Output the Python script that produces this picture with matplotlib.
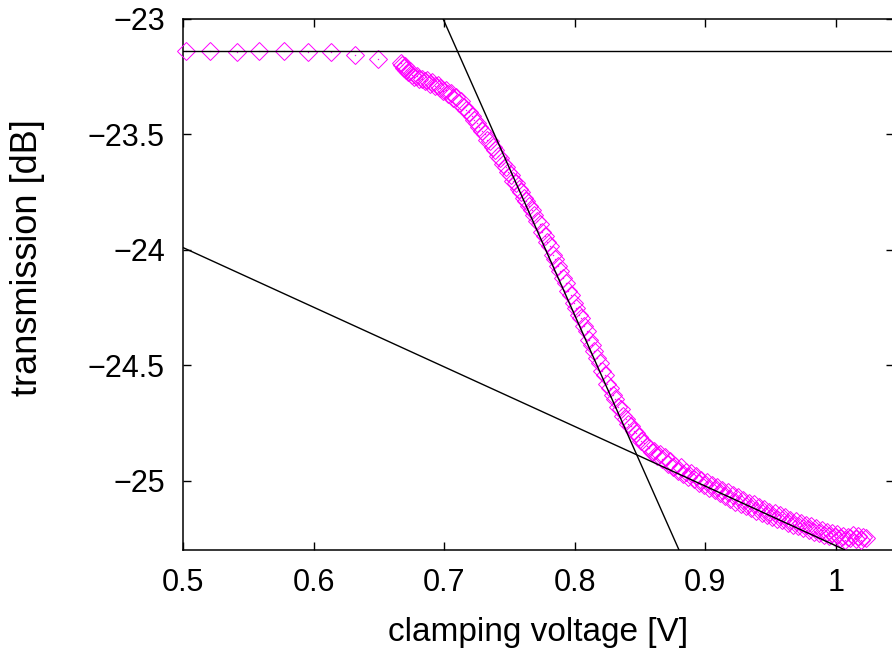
import matplotlib
matplotlib.use("Agg")
import matplotlib.pyplot as plt
from matplotlib.ticker import FuncFormatter

# ---- data ----
sparse_v = [0.502, 0.521, 0.541, 0.558, 0.577, 0.596, 0.613, 0.632, 0.649]
sparse_t = [-23.140, -23.140, -23.141, -23.139, -23.140, -23.143, -23.142, -23.158, -23.172]

dense_v = [
    0.6670, 0.6680, 0.6690, 0.6700, 0.6710, 0.6720, 0.6735, 0.6750, 0.6770, 0.6790,
    0.6810, 0.6830, 0.6850, 0.6870, 0.6890, 0.6910, 0.6930, 0.6950, 0.6970, 0.6990,
    0.7010, 0.7030, 0.7050, 0.7070, 0.7090, 0.7110, 0.7130, 0.7150, 0.7170, 0.7190,
    0.7210, 0.7230, 0.7250, 0.7270, 0.7290, 0.7310, 0.7330, 0.7350, 0.7370, 0.7390,
    0.7410, 0.7430, 0.7450, 0.7470, 0.7490, 0.7510, 0.7530, 0.7550, 0.7570, 0.7590,
    0.7610, 0.7630, 0.7650, 0.7670, 0.7690, 0.7710, 0.7730, 0.7750, 0.7770, 0.7790,
    0.7810, 0.7830, 0.7850, 0.7870, 0.7890, 0.7910, 0.7930, 0.7950, 0.7970, 0.7990,
    0.8010, 0.8030, 0.8050, 0.8070, 0.8090, 0.8110, 0.8130, 0.8150, 0.8170, 0.8190,
    0.8210, 0.8230, 0.8250, 0.8270, 0.8290, 0.8310, 0.8330, 0.8350, 0.8370, 0.8390,
    0.8410, 0.8430, 0.8450, 0.8470, 0.8490, 0.8510, 0.8530, 0.8550, 0.8570, 0.8590,
    0.8610, 0.8630, 0.8650, 0.8670, 0.8690, 0.8710, 0.8730, 0.8750, 0.8770, 0.8790,
    0.8810, 0.8830, 0.8850, 0.8870, 0.8890, 0.8910, 0.8930, 0.8950, 0.8970, 0.8990,
    0.9010, 0.9030, 0.9050, 0.9070, 0.9090, 0.9110, 0.9130, 0.9150, 0.9170, 0.9190,
    0.9210, 0.9230, 0.9250, 0.9270, 0.9290, 0.9310, 0.9330, 0.9350, 0.9370, 0.9390,
    0.9410, 0.9430, 0.9450, 0.9470, 0.9490, 0.9510, 0.9530, 0.9550, 0.9570, 0.9590,
    0.9610, 0.9630, 0.9650, 0.9670, 0.9690, 0.9710, 0.9730, 0.9750, 0.9770, 0.9790,
    0.9810, 0.9830, 0.9850, 0.9870, 0.9890, 0.9910, 0.9930, 0.9950, 0.9970, 0.9990,
    1.0010, 1.0030, 1.0050, 1.0070, 1.0090, 1.0110, 1.0130, 1.0150, 1.0170, 1.0190,
    1.0210, 1.0230,
]
dense_t = [
    -23.192, -23.200, -23.211, -23.205, -23.222, -23.230, -23.226, -23.243, -23.252, -23.249,
    -23.262, -23.258, -23.270, -23.266, -23.281, -23.275, -23.292, -23.286, -23.301, -23.310,
    -23.306, -23.327, -23.322, -23.343, -23.338, -23.362, -23.355, -23.381, -23.392, -23.403,
    -23.418, -23.437, -23.449, -23.468, -23.484, -23.500, -23.522, -23.530, -23.556, -23.568,
    -23.592, -23.601, -23.628, -23.640, -23.662, -23.675, -23.701, -23.712, -23.738, -23.750,
    -23.776, -23.790, -23.812, -23.826, -23.851, -23.876, -23.889, -23.921, -23.940, -23.968,
    -23.983, -24.021, -24.040, -24.068, -24.092, -24.121, -24.145, -24.180, -24.196, -24.232,
    -24.250, -24.280, -24.296, -24.330, -24.352, -24.389, -24.410, -24.440, -24.470, -24.488,
    -24.524, -24.540, -24.579, -24.598, -24.630, -24.645, -24.680, -24.690, -24.718, -24.731,
    -24.755, -24.762, -24.784, -24.795, -24.812, -24.826, -24.838, -24.850, -24.857, -24.876,
    -24.870, -24.893, -24.885, -24.905, -24.898, -24.929, -24.915, -24.940, -24.935, -24.958,
    -24.942, -24.970, -24.960, -24.985, -24.965, -24.992, -24.978, -25.010, -24.995, -25.020,
    -25.005, -25.030, -25.018, -25.042, -25.025, -25.055, -25.040, -25.068, -25.050, -25.078,
    -25.062, -25.090, -25.072, -25.100, -25.085, -25.110, -25.096, -25.120, -25.102, -25.130,
    -25.112, -25.138, -25.122, -25.150, -25.135, -25.158, -25.140, -25.165, -25.150, -25.172,
    -25.155, -25.182, -25.168, -25.190, -25.175, -25.198, -25.182, -25.205, -25.190, -25.212,
    -25.196, -25.222, -25.205, -25.228, -25.214, -25.235, -25.220, -25.240, -25.228, -25.245,
    -25.232, -25.250, -25.238, -25.255, -25.242, -25.248, -25.236, -25.252, -25.240, -25.258,
    -25.245, -25.250,
]

# fitted straight lines (endpoints)
flat_line_v = [0.5, 1.0444]
flat_line_t = [-23.14, -23.14]
steep_line_v = [0.6992, 0.8798]
steep_line_t = [-23.0, -25.3]
shallow_line_v = [0.5, 1.0070]
shallow_line_t = [-23.99, -25.30]

x_ticks = [0.5, 0.6, 0.7, 0.8, 0.9, 1.0]
y_ticks = [-25.0, -24.5, -24.0, -23.5, -23.0]

# ---- plot ----
plt.rcParams['font.family'] = ['Liberation Sans', 'DejaVu Sans']
fig = plt.figure(figsize=(8.92, 6.55), dpi=100)
ax = fig.add_axes([183/892, 1 - 550/655, (894 - 183)/892, (550 - 19)/655])

mag = '#ff00ff'
for v, t in ((sparse_v, sparse_t), (dense_v, dense_t)):
    ax.plot(v, t, linestyle='none', marker='D', markersize=9.2,
            markerfacecolor='none', markeredgecolor=mag, markeredgewidth=0.7,
            clip_on=False, zorder=3)
    ax.plot(v, t, linestyle='none', marker='s', markersize=0.9,
            color=mag, markeredgewidth=0, zorder=3)

for lv, lt in ((flat_line_v, flat_line_t), (steep_line_v, steep_line_t),
               (shallow_line_v, shallow_line_t)):
    ax.plot(lv, lt, color='black', linewidth=1.0, zorder=4)

ax.set_xlim(0.5, 1.0444)
ax.set_ylim(-25.3, -23.0)
ax.set_xticks(x_ticks)
ax.set_yticks(y_ticks)
fmt = FuncFormatter(lambda v, p: ('%g' % v).replace('-', '\u2212'))
ax.xaxis.set_major_formatter(fmt)
ax.yaxis.set_major_formatter(fmt)
ax.tick_params(direction='in', length=6, width=1.0, top=True, right=True,
               labelsize=22, pad=13)
for s in ax.spines.values():
    s.set_linewidth(1.1)

ax.set_xlabel('clamping voltage [V]', fontsize=24, va='center')
ax.xaxis.set_label_coords(0.5, -(633 - 550) / 531)
ax.set_ylabel('transmission [dB]', fontsize=26, va='center')
ax.yaxis.set_label_coords(-(183 - 28) / 711, (550 - 258) / 531)

fig.savefig('out.png', dpi=100)
